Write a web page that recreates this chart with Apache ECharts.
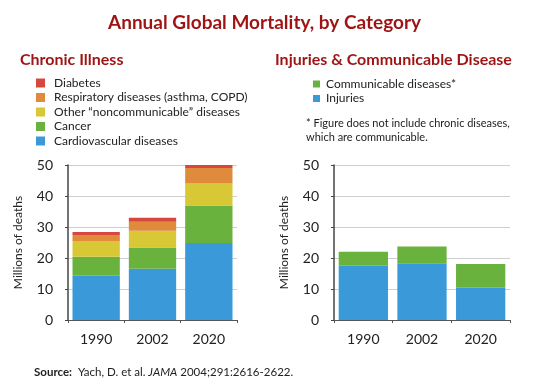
<!DOCTYPE html>
<html><head><meta charset="utf-8">
<script src="https://cdn.jsdelivr.net/npm/echarts@6/dist/echarts.min.js"></script>
<style>html,body{margin:0;padding:0;background:#fff}#c{width:540px;height:390px}</style>
</head><body><div id="c"></div>
<script>
const years = ['1990', '2002', '2020'];
const cardiovascular = [14.3, 16.5, 24.8];
const cancer = [6.1, 6.9, 12.1];
const otherNCD = [4.9, 5.4, 7.1];
const respiratory = [2.1, 2.9, 5.0];
const diabetes = [1.0, 1.3, 1.0];
const injuries = [17.5, 18.3, 10.4];
const communicable = [4.5, 5.4, 7.7];
const yTicks = [0, 10, 20, 30, 40, 50];

const C = {blue:'#3a9ad9', green:'#6ab23e', yellow:'#d8c836', orange:'#e08a3c', red:'#d6483d'};
const titleRed = '#9e1414';
const FONT = 'Lato, "Open Sans", sans-serif';

const chart = echarts.init(document.getElementById('c'));
function yAxis(gi){
  return {type:'value', gridIndex:gi, min:yTicks[0], max:yTicks[yTicks.length-1], interval:yTicks[1]-yTicks[0],
    name:'Millions of deaths', nameLocation:'middle', nameGap:44, nameRotate:90,
    nameTextStyle:{fontFamily:FONT, fontSize:12, color:'#222'},
    axisLine:{show:true, lineStyle:{color:'#444', width:1.5}},
    axisTick:{show:true, length:3, lineStyle:{color:'#444'}},
    axisLabel:{fontFamily:FONT, fontSize:14, color:'#222', margin:15},
    splitLine:{lineStyle:{color:'#cfcfcf', width:1}}};
}
function xAxis(gi){
  return {type:'category', gridIndex:gi, data:years,
    axisLine:{lineStyle:{color:'#555', width:1}},
    axisTick:{show:true, length:3, inside:false, lineStyle:{color:'#555'}},
    axisLabel:{fontFamily:FONT, fontSize:14, color:'#222', margin:12}};
}
function bar(name, data, color, gi){
  return {name, type:'bar', stack:'s'+gi, data, xAxisIndex:gi, yAxisIndex:gi,
    barCategoryGap:'16%', itemStyle:{color}, emphasis:{disabled:true}};
}
chart.setOption({
  animation:false,
  textStyle:{fontFamily:FONT},
  title:[
    {text:'Annual Global Mortality, by Category', left:103, top:8,
     textStyle:{fontFamily:FONT, fontSize:19, fontWeight:'bold', color:titleRed}},
    {text:'Chronic Illness', left:15, top:47,
     textStyle:{fontFamily:FONT, fontSize:16, fontWeight:'bold', color:titleRed}},
    {text:'Injuries & Communicable Disease', left:270, top:47,
     textStyle:{fontFamily:FONT, fontSize:16, fontWeight:'bold', color:titleRed}}
  ],
  legend:[
    {orient:'vertical', left:31, top:72, itemWidth:9, itemHeight:9, itemGap:2.5,
     icon:'rect', selectedMode:false,
     textStyle:{fontFamily:FONT, fontSize:12, color:'#222', padding:[0,0,0,4]},
     data:['Diabetes','Respiratory diseases (asthma, COPD)','Other \u201cnoncommunicable\u201d diseases','Cancer','Cardiovascular diseases']},
    {orient:'vertical', left:308, top:73, itemWidth:7, itemHeight:7, itemGap:2.5,
     icon:'rect', selectedMode:false,
     textStyle:{fontFamily:FONT, fontSize:12, color:'#222', padding:[0,0,0,1]},
     data:['Communicable diseases*','Injuries']}
  ],
  grid:[
    {left:68, right:303, top:165, bottom:70},
    {left:334, right:30, top:165, bottom:70}
  ],
  xAxis:[xAxis(0), xAxis(1)],
  yAxis:[yAxis(0), yAxis(1)],
  series:[
    bar('Cardiovascular diseases', cardiovascular, C.blue, 0),
    bar('Cancer', cancer, C.green, 0),
    bar('Other \u201cnoncommunicable\u201d diseases', otherNCD, C.yellow, 0),
    bar('Respiratory diseases (asthma, COPD)', respiratory, C.orange, 0),
    bar('Diabetes', diabetes, C.red, 0),
    bar('Injuries', injuries, C.blue, 1),
    bar('Communicable diseases*', communicable, C.green, 1)
  ],
  graphic:[
    {type:'text', left:306, top:116, style:{text:'* Figure does not include chronic diseases,\nwhich are communicable.',
      font:'11px '+FONT, fill:'#222', lineHeight:14}},
    {type:'text', left:34, top:366, style:{rich:{b:{fontFamily:FONT, fontWeight:'bold', fontSize:11.5, fill:'#222'},
      n:{fontFamily:FONT, fontSize:11.5, fill:'#222'}, i:{fontFamily:FONT, fontSize:11.5, fontStyle:'italic', fill:'#222'}},
      text:'{b|Source:}{n|  Yach, D. et al. }{i|JAMA}{n| 2004;291:2616-2622.}'}}
  ]
});
</script></body></html>
